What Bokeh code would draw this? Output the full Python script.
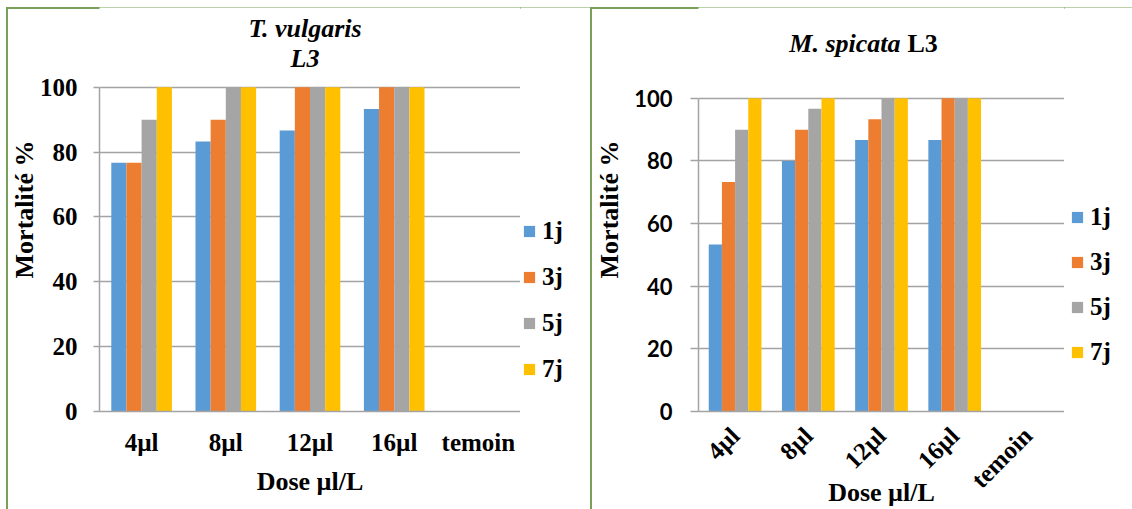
from math import pi
from bokeh.plotting import figure
from bokeh.models import (Range1d, FactorRange, FixedTicker, Legend, LegendItem, Label, ColumnDataSource)
from bokeh.transform import dodge
from bokeh.layouts import row
from bokeh.embed import file_html
from bokeh.resources import INLINE

# ---------------- data ----------------
categories = ["4µl", "8µl", "12µl", "16µl", "temoin"]
series = ["1j", "3j", "5j", "7j"]
colors = ["#5B9BD5", "#ED7D31", "#A5A5A5", "#FFC000"]
y_ticks = [0, 20, 40, 60, 80, 100]

tv_1j = [76.7, 83.3, 86.7, 93.3, 0]
tv_3j = [76.7, 90.0, 100.0, 100.0, 0]
tv_5j = [90.0, 100.0, 100.0, 100.0, 0]
tv_7j = [100.0, 100.0, 100.0, 100.0, 0]

ms_1j = [53.3, 80.0, 86.7, 86.7, 0]
ms_3j = [73.3, 90.0, 93.3, 100.0, 0]
ms_5j = [90.0, 96.7, 100.0, 100.0, 0]
ms_7j = [100.0, 100.0, 100.0, 100.0, 0]

title_left_1 = "T. vulgaris"
title_left_2 = "L3"
title_right_a = "M. spicata"
title_right_b = "L3"
x_title = "Dose µl/L"
y_title = "Mortalité %"

SERIF = "Liberation Serif"
SANS = "Lato"
GRID = "#a3a3a3"
FRAME_GREEN = "#79a058"
offsets = [-0.27, -0.09, 0.09, 0.27]
BAR_W = 0.18
H = 502


def make_panel(vals, width, y_top, mb_left, mb_bottom, tick_font, tick_size,
               tick_out, tick_standoff, y_lab_standoff, rotate):
    src = ColumnDataSource(dict(cat=categories, **{s: v for s, v in zip(series, vals)}))
    p = figure(width=width, height=H, x_range=FactorRange(*categories, range_padding=0),
               y_range=Range1d(0, y_top), output_backend="svg", toolbar_location=None,
               min_border_left=mb_left, min_border_right=0,
               min_border_top=0, min_border_bottom=mb_bottom)
    p.border_fill_color = None
    p.outline_line_color = None
    for s, c, off in zip(series, colors, offsets):
        p.vbar(x=dodge("cat", off, range=p.x_range), top=s, width=BAR_W, source=src,
               fill_color=c, line_color=None)

    # y axis
    p.yaxis.ticker = FixedTicker(ticks=y_ticks)
    p.yaxis.bounds = (0, 100)
    p.yaxis.major_label_text_font = tick_font
    p.yaxis.major_label_text_font_style = "bold"
    p.yaxis.major_label_text_font_size = tick_size
    p.yaxis.major_label_text_color = "black"
    p.yaxis.major_tick_out = tick_out
    p.yaxis.major_tick_in = 0
    p.yaxis.minor_tick_out = 0
    p.yaxis.minor_tick_in = 0
    p.yaxis.major_tick_line_color = GRID
    p.yaxis.major_tick_line_width = 1.5
    p.yaxis.axis_line_color = GRID
    p.yaxis.axis_line_width = 1.5
    p.yaxis.major_label_standoff = tick_standoff
    p.yaxis.axis_label = y_title
    p.yaxis.axis_label_text_font = SERIF
    p.yaxis.axis_label_text_font_style = "bold"
    p.yaxis.axis_label_text_font_size = "26px"
    p.yaxis.axis_label_text_color = "black"
    p.yaxis.axis_label_standoff = y_lab_standoff

    # x axis
    p.xaxis.major_tick_out = 0
    p.xaxis.major_tick_in = 0
    p.xaxis.axis_line_color = GRID
    p.xaxis.axis_line_width = 1.5
    p.xaxis.major_label_text_font = SERIF
    p.xaxis.major_label_text_font_style = "bold"
    p.xaxis.major_label_text_font_size = "25px"
    p.xaxis.major_label_text_color = "black"
    p.xaxis.axis_label = x_title
    p.xaxis.axis_label_text_font = SERIF
    p.xaxis.axis_label_text_font_style = "bold"
    p.xaxis.axis_label_text_font_size = "26px"
    p.xaxis.axis_label_text_color = "black"
    if rotate:
        p.xaxis.major_label_orientation = pi / 4
        p.xaxis.major_label_standoff = 20
        p.xaxis.axis_label_standoff = -28
    else:
        p.xaxis.major_label_standoff = 17
        p.xaxis.axis_label_standoff = 8

    p.xgrid.grid_line_color = None
    p.ygrid.grid_line_color = GRID
    p.ygrid.grid_line_width = 1.5
    return p


def make_legend_fig(width, loc, spacing):
    lf = figure(width=width, height=H, x_range=Range1d(0, 1), y_range=Range1d(0, 1),
                x_axis_type=None, y_axis_type=None, output_backend="svg",
                toolbar_location=None, min_border_left=0, min_border_right=0,
                min_border_top=0, min_border_bottom=0)
    lf.border_fill_color = None
    lf.outline_line_color = None
    lf.grid.visible = False
    items = []
    for s, c in zip(series, colors):
        # zero-height swatch renderer, only used for the legend entry
        r = lf.vbar(x=[0.5], top=[0], bottom=[0], width=0.1, fill_color=c, line_color=None)
        items.append(LegendItem(label=s, renderers=[r]))
    lg = Legend(items=items, location=loc, orientation="vertical",
                label_text_font=SERIF, label_text_font_style="bold",
                label_text_font_size="25px", label_text_color="black",
                glyph_width=14, glyph_height=14, label_standoff=6,
                spacing=spacing, padding=0, margin=0, border_line_color=None,
                background_fill_color=None, label_height=20)
    lf.add_layout(lg)
    lf.styles = {"box-shadow": f"inset 0 2px 0 {FRAME_GREEN}"}
    return lf


# ---------------- left panel ----------------
p1 = make_panel([tv_1j, tv_3j, tv_5j, tv_7j], 514, 124.6, 91, 97,
                SERIF, "25px", 6, 16, -2, False)
p1.add_layout(Label(x=2.5, y=100, x_offset=-5, y_offset=59, text=title_left_1,
                    text_align="center", text_baseline="middle", text_font=SERIF,
                    text_font_style="bold italic", text_font_size="26px", text_color="black"))
p1.add_layout(Label(x=2.5, y=100, x_offset=-5, y_offset=29, text=title_left_2,
                    text_align="center", text_baseline="middle", text_font=SERIF,
                    text_font_style="bold italic", text_font_size="26px", text_color="black"))
p1.styles = {"box-shadow": f"inset 2px 2px 0 {FRAME_GREEN}"}
l1 = make_legend_fig(70, (2, 28), 18)

# ---------------- right panel ----------------
p2 = make_panel([ms_1j, ms_3j, ms_5j, ms_7j], 474, 129.0, 108, 97,
                SANS, "22px", 8, 18, 7, True)
p2.add_layout(Label(x=2.5, y=100, x_offset=19, y_offset=55, text=title_right_a,
                    text_align="right", text_baseline="middle", text_font=SERIF,
                    text_font_style="bold italic", text_font_size="26px", text_color="black"))
p2.add_layout(Label(x=2.5, y=100, x_offset=26, y_offset=55, text=title_right_b,
                    text_align="left", text_baseline="middle", text_font=SERIF,
                    text_font_style="bold", text_font_size="26px", text_color="black"))
p2.styles = {"box-shadow": f"inset 2px 2px 0 {FRAME_GREEN}"}
l2 = make_legend_fig(68, (6, 45), 17)

layout = row(p1, l1, p2, l2, styles={"margin-left": "6px", "margin-top": "7px"})
open("out.html", "w").write(file_html(layout, INLINE))
